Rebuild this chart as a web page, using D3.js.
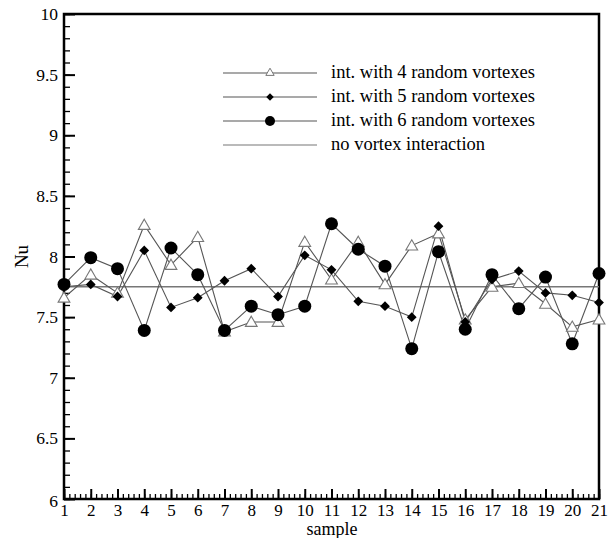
<!DOCTYPE html>
<html>
<head>
<meta charset="utf-8">
<script src="https://cdn.jsdelivr.net/npm/d3@7"></script>
<style>
  body { margin: 0; background: #fff; }
  svg text { font-family: "Liberation Serif", "Times New Roman", serif !important; }
</style>
</head>
<body>
<svg id="chart"></svg>
<script>
// samples 1..21
const samples = d3.range(1, 22);
const vort4 = [7.66, 7.85, 7.70, 8.26, 7.93, 8.16, 7.38, 7.46, 7.46, 8.12, 7.81, 8.12, 7.77, 8.09, 8.19, 7.48, 7.75, 7.78, 7.61, 7.42, 7.48];
const vort5 = [7.75, 7.77, 7.67, 8.05, 7.58, 7.66, 7.80, 7.90, 7.67, 8.01, 7.89, 7.63, 7.59, 7.50, 8.25, 7.46, 7.81, 7.88, 7.70, 7.68, 7.62];
const vort6 = [7.77, 7.99, 7.90, 7.39, 8.07, 7.85, 7.39, 7.59, 7.52, 7.59, 8.27, 8.06, 7.92, 7.24, 8.04, 7.40, 7.85, 7.57, 7.83, 7.28, 7.86];
const noVortex = 7.75;
const yTicks = [6, 6.5, 7, 7.5, 8, 8.5, 9, 9.5, 10];
const legendLabels = ["int. with 4 random vortexes", "int. with 5 random vortexes", "int. with 6 random vortexes", "no vortex interaction"];

const FONT = "Liberation Serif";
const width = 608, height = 538;
const margin = { top: 14, right: 9, bottom: 39, left: 64 };
const w = width - margin.left - margin.right;
const h = height - margin.top - margin.bottom;

const svg = d3.select("#chart").attr("width", width).attr("height", height);
const g = svg.append("g").attr("transform", `translate(${margin.left},${margin.top})`);

const x = d3.scaleLinear().domain([1, 21]).range([0, w]);
const y = d3.scaleLinear().domain([6, 10]).range([h, 0]);

// minor ticks
g.append("g").attr("transform", `translate(0,${h})`)
  .call(d3.axisBottom(x).tickValues(d3.range(1, 21.01, 0.2)).tickSize(-5).tickFormat(""))
  .call(a => a.select(".domain").remove())
  .selectAll("line").attr("stroke-width", 1.3);
g.append("g")
  .call(d3.axisLeft(y).tickValues(d3.range(6, 10.01, 0.1)).tickSize(-6).tickFormat(""))
  .call(a => a.select(".domain").remove())
  .selectAll("line").attr("stroke-width", 1.3);

// major ticks with labels
const xAx = g.append("g").attr("transform", `translate(0,${h})`)
  .call(d3.axisBottom(x).tickValues(samples).tickSize(-10).tickPadding(5).tickFormat(d3.format("d")));
xAx.select(".domain").remove();
xAx.selectAll("line").attr("stroke-width", 2);
xAx.selectAll("text").attr("fill", "#000")
  .style("font-family", FONT).style("font-size", "17px");

const yAx = g.append("g")
  .call(d3.axisLeft(y).tickValues(yTicks).tickSize(-11).tickPadding(6).tickFormat(d => d));
yAx.select(".domain").remove();
yAx.selectAll("line").attr("stroke-width", 2);
yAx.selectAll("text").attr("fill", "#000")
  .style("font-family", FONT).style("font-size", "17.5px");
// the bottom "6" sits a little lower, as in the source plot
yAx.selectAll("text").filter(d => d === 6).attr("dy", "0.45em");

// frame
g.append("rect").attr("width", w).attr("height", h)
  .attr("fill", "none").attr("stroke", "#000").attr("stroke-width", 2.5);

// reference line
g.append("line").attr("x1", 0).attr("x2", w)
  .attr("y1", y(noVortex)).attr("y2", y(noVortex))
  .attr("stroke", "#777").attr("stroke-width", 1.5);

const line = d3.line().x((d, i) => x(samples[i])).y(d => y(d));
const lineColor = "#555";

[vort4, vort5, vort6].forEach(s => {
  g.append("path").datum(s).attr("d", line)
    .attr("fill", "none").attr("stroke", lineColor).attr("stroke-width", 1.1);
});

const triangle = d3.symbol().type(d3.symbolTriangle).size(60);
const diamond = d3.symbol().type(d3.symbolSquare).size(48);

g.selectAll(".tri").data(vort4).enter().append("path").attr("class", "tri")
  .attr("transform", (d, i) => `translate(${x(samples[i])},${y(d) + 1})`)
  .attr("d", triangle).attr("fill", "#fff").attr("stroke", "#777").attr("stroke-width", 1.1);
g.selectAll(".dia").data(vort5).enter().append("path").attr("class", "dia")
  .attr("transform", (d, i) => `translate(${x(samples[i])},${y(d)}) rotate(45)`)
  .attr("d", diamond).attr("fill", "#000");
g.selectAll(".circ").data(vort6).enter().append("circle").attr("class", "circ")
  .attr("cx", (d, i) => x(samples[i])).attr("cy", d => y(d))
  .attr("r", 6.5).attr("fill", "#000");

// legend
const leg = svg.append("g").attr("transform", "translate(223,73)");
legendLabels.forEach((lab, i) => {
  const row = leg.append("g").attr("transform", `translate(0,${i * 24})`);
  row.append("line").attr("x1", 0).attr("x2", 94)
    .attr("stroke", i === 3 ? "#777" : lineColor).attr("stroke-width", 1.1);
  if (i === 0) row.append("path").attr("transform", "translate(47,0)")
    .attr("d", d3.symbol().type(d3.symbolTriangle).size(30))
    .attr("fill", "#fff").attr("stroke", "#777");
  else if (i === 1) row.append("path").attr("transform", "translate(47,0) rotate(45)")
    .attr("d", d3.symbol().type(d3.symbolSquare).size(28)).attr("fill", "#000");
  else if (i === 2) row.append("circle").attr("cx", 47).attr("r", 5).attr("fill", "#000");
  row.append("text").attr("x", 108).attr("y", 5)
    .style("font-family", FONT).style("font-size", "18.5px").text(lab);
});

// axis titles
svg.append("text").attr("x", 332).attr("y", 535)
  .attr("text-anchor", "middle").style("font-family", FONT).style("font-size", "18px").text("sample");
svg.append("text").attr("transform", `translate(28,${y(8) + margin.top}) rotate(-90)`)
  .attr("text-anchor", "middle").style("font-family", FONT).style("font-size", "19px").text("Nu");
</script>
</body>
</html>
